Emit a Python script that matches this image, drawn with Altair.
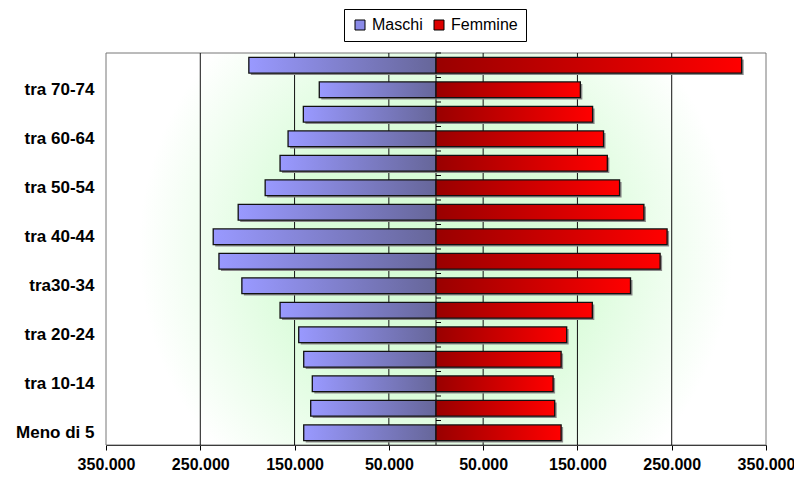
import json
import altair as alt
import pandas as pd

# ---- data ----
ages = ["Meno di 5", "tra 5-9", "tra 10-14", "tra 15-19", "tra 20-24", "tra 25-29",
        "tra30-34", "tra 35-39", "tra 40-44", "tra 45-49", "tra 50-54", "tra 55-59",
        "tra 60-64", "tra 65-69", "tra 70-74", "oltre 75"]
maschi = [140300, 132900, 131200, 140300, 145600, 165400, 205900, 230200,
          236300, 209800, 181200, 165400, 156900, 140700, 123800, 198500]
femmine = [132700, 125900, 124200, 132700, 138600, 165800, 206300, 237700,
           245100, 220500, 194700, 181700, 177700, 166100, 153100, 324200]
shown_labels = ["Meno di 5", "tra 10-14", "tra 20-24", "tra30-34", "tra 40-44",
                "tra 50-54", "tra 60-64", "tra 70-74"]
tick_values = [-350000, -250000, -150000, -50000, 50000, 150000, 250000, 350000]
grid_values = [-250000, -150000, -50000, 50000, 150000, 250000]
series = ["Maschi", "Femmine"]

rows = []
for a, m, f in zip(ages, maschi, femmine):
    rows.append({"eta": a, "sesso": "Maschi", "valore": -m})
    rows.append({"eta": a, "sesso": "Femmine", "valore": f})
df = pd.DataFrame(rows)
cats = pd.DataFrame({"eta": ages, "zero": [0] * len(ages)})

order = list(reversed(ages))
FONT = "Liberation Sans"

W, H = 660, 392
STEP = H / len(ages)

xscale = alt.Scale(domain=[-350000, 350000], nice=False, zero=False)
yscale = alt.Scale(domain=order, paddingInner=0.36, paddingOuter=0.18)

label_expr = "indexof(" + json.dumps(shown_labels) + ", datum.value) >= 0 ? datum.value : ''"

xaxis = alt.Axis(values=tick_values, grid=False, title=None,
                 labelExpr="replace(format(abs(datum.value), ','), ',', '.')",
                 labelFont=FONT, labelFontSize=16, labelFontWeight="bold",
                 labelColor="black", labelFlush=False, labelOverlap=False,
                 labelBound=False, labelPadding=6, tickSize=5, tickColor="black",
                 domainColor="black")
yaxis = alt.Axis(orient="left", title=None, ticks=False, domain=False,
                 labelExpr=label_expr, labelFont=FONT, labelFontSize=17,
                 labelFontWeight="bold", labelColor="black",
                 labelPadding=12, labelLimit=300)


def X(field):
    return alt.X(field, scale=xscale, axis=xaxis, stack=None)


def Y():
    return alt.Y("eta:N", sort=order, scale=yscale, axis=yaxis)


# background radial gradient
bg_grad = alt.RadialGradient(
    gradient="radial",
    stops=[alt.GradientStop(offset=0, color="#d4fbd4"),
           alt.GradientStop(offset=0.45, color="#dafcda"),
           alt.GradientStop(offset=0.9, color="#ffffff"),
           alt.GradientStop(offset=1, color="#ffffff")],
    x1=0.5, y1=0.5, r1=0, x2=0.5, y2=0.5, r2=0.5)

bg = alt.Chart(pd.DataFrame({"k": [0]})).mark_rect(
    color=bg_grad, stroke="#777777", strokeWidth=1
).encode(x=alt.value(0), x2=alt.value(W), y=alt.value(0), y2=alt.value(H))

grid = alt.Chart(pd.DataFrame({"g": grid_values})).mark_rule(
    color="#111111", strokeWidth=1
).encode(x=X("g:Q"))

center = alt.Chart(pd.DataFrame({"g": [0]})).mark_rule(
    color="black", strokeWidth=1
).encode(x=X("g:Q"))

center_ticks = alt.Chart(cats).mark_rule(
    color="black", strokeWidth=1, x2Offset=5, yOffset=-STEP / 2
).encode(x=X("zero:Q"), x2="zero:Q", y=Y())

shadow = alt.Chart(df).mark_bar(color="#8a8a8a", xOffset=2, yOffset=2).encode(
    x=X("valore:Q"), y=Y()
)

solid = alt.Chart(df).mark_bar().encode(
    x=X("valore:Q"),
    y=Y(),
    color=alt.Color("sesso:N",
                    scale=alt.Scale(domain=series, range=["#8a8ae8", "#dd0000"]),
                    legend=alt.Legend(orient="none", legendX=238, legendY=-44,
                                      direction="horizontal", title=None,
                                      symbolType="square", symbolSize=100,
                                      symbolStrokeColor="black", symbolStrokeWidth=1,
                                      labelFont=FONT, labelFontSize=16,
                                      labelColor="black", strokeColor="black",
                                      fillColor="white", padding=8,
                                      columnPadding=8, labelOffset=4)),
)

male_grad = alt.LinearGradient(
    gradient="linear",
    stops=[alt.GradientStop(offset=0, color="#9999ff"),
           alt.GradientStop(offset=1, color="#666699")],
    x1=0, x2=1, y1=0, y2=0)
female_grad = alt.LinearGradient(
    gradient="linear",
    stops=[alt.GradientStop(offset=0, color="#990000"),
           alt.GradientStop(offset=1, color="#ff0000")],
    x1=0, x2=1, y1=0, y2=0)

male = alt.Chart(df).transform_filter(alt.datum.sesso == "Maschi").mark_bar(
    color=male_grad, stroke="#111111", strokeWidth=1.3
).encode(x=X("valore:Q"), y=Y())

female = alt.Chart(df).transform_filter(alt.datum.sesso == "Femmine").mark_bar(
    color=female_grad, stroke="#111111", strokeWidth=1.3
).encode(x=X("valore:Q"), y=Y())

chart = alt.layer(bg, grid, center, center_ticks, shadow, solid, male, female).properties(
    width=W, height=H, autosize="none",
    padding={"left": 98, "top": 45, "right": 28, "bottom": 29},
    background="white",
).configure_view(stroke=None)

chart.save("out.html", embed_options={"renderer": "svg", "actions": False})
